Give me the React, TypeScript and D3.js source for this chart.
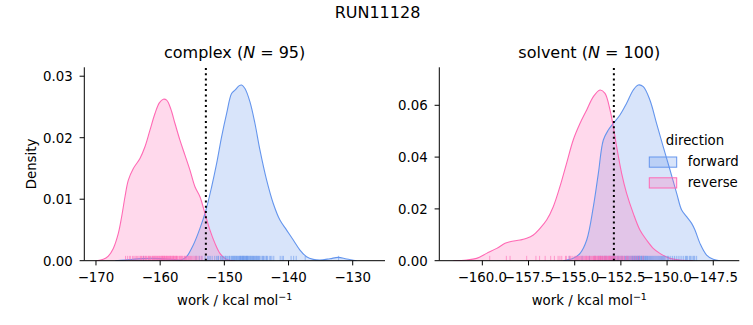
import React from "react";
import * as d3 from "d3";

// ---------- data ----------
const suptitle = "RUN11128";
const directions = ["forward", "reverse"];
const colors: Record<string, string> = { forward: "#6495ED", reverse: "#FF69B4" };

// KDE curves: [work, density]
const complexForwardKde: [number, number][] = [
  [-167.0, 0], [-165.5, 0.0001], [-163.5, 0.0003], [-161.5, 0.0004], [-159.5, 0.0003],
  [-157.8, 0.0002], [-156.9, 0.0001], [-156.4, 0.00027], [-155.88, 0.00065], [-154.84, 0.00255],
  [-153.8, 0.00525], [-152.87, 0.00823], [-151.98, 0.01202], [-151.2, 0.01581], [-150.43, 0.02014],
  [-149.65, 0.02393], [-148.87, 0.02718], [-148.35, 0.02772], [-147.73, 0.02843], [-147.3, 0.02857],
  [-146.79, 0.028], [-146.01, 0.02583], [-145.23, 0.02231], [-144.45, 0.01798], [-143.41, 0.0131],
  [-142.38, 0.00931], [-141.34, 0.00661], [-140.3, 0.00498], [-139.26, 0.00336], [-138.22, 0.00173],
  [-137.19, 0.00065], [-136.15, 0.00022], [-135.11, 0.00011], [-133.55, 0.00032], [-132.25, 0.00054],
  [-130.95, 0.00027], [-129.4, 0],
];
const complexReverseKde: [number, number][] = [
  [-169.9, 0], [-168.86, 0.00022], [-168.08, 0.00076], [-167.3, 0.002], [-166.52, 0.00444],
  [-166.0, 0.00715], [-165.48, 0.0104], [-164.96, 0.0131], [-164.18, 0.015], [-163.15, 0.01662],
  [-162.37, 0.01852], [-161.59, 0.02123], [-160.81, 0.02393], [-160.13, 0.02567], [-159.51, 0.02626],
  [-158.99, 0.0261], [-158.37, 0.02475], [-157.69, 0.02231], [-156.92, 0.0196], [-156.14, 0.01717],
  [-155.36, 0.01473], [-154.58, 0.01202], [-153.8, 0.0104], [-153.02, 0.00769], [-152.24, 0.00498],
  [-151.46, 0.00282], [-150.69, 0.00119], [-149.91, 0.00038], [-149.13, 0.00005], [-148.3, 0],
];
const solventForwardKde: [number, number][] = [
  [-155.62, 0], [-155.08, 0.0009], [-154.71, 0.00283], [-154.35, 0.00798], [-153.99, 0.02086],
  [-153.72, 0.03373], [-153.45, 0.04661], [-153.18, 0.05047], [-152.91, 0.05305], [-152.55, 0.05626],
  [-152.19, 0.06077], [-151.83, 0.06592], [-151.56, 0.06785], [-151.29, 0.06721], [-150.93, 0.06206],
  [-150.57, 0.05305], [-150.21, 0.04403], [-149.84, 0.03502], [-149.48, 0.02601], [-149.21, 0.01957],
  [-148.94, 0.017], [-148.67, 0.01442], [-148.49, 0.01185], [-148.22, 0.00669], [-147.86, 0.00219],
  [-147.5, 0.00052], [-147.14, 0],
];
const solventReverseKde: [number, number][] = [
  [-161.57, 0], [-160.85, 0.00026], [-160.31, 0.0009], [-159.77, 0.00283], [-159.22, 0.00476],
  [-158.77, 0.00669], [-158.5, 0.00734], [-157.96, 0.00798], [-157.6, 0.00863], [-157.24, 0.00991],
  [-156.88, 0.01249], [-156.52, 0.01571], [-156.16, 0.02086], [-155.8, 0.02858], [-155.44, 0.03759],
  [-155.08, 0.04661], [-154.71, 0.05305], [-154.35, 0.0582], [-153.99, 0.06335], [-153.63, 0.06592],
  [-153.36, 0.06463], [-153.09, 0.0582], [-152.91, 0.05176], [-152.73, 0.04403], [-152.46, 0.03373],
  [-152.19, 0.02601], [-151.83, 0.01828], [-151.47, 0.01185], [-151.11, 0.00798], [-150.75, 0.00476],
  [-150.39, 0.00283], [-149.84, 0.0009], [-149.12, 0.00013], [-148.6, 0],
];

// rug samples (work values)
const complexForwardRug = [
  -162.6, -154.4, -153.9, -153.5, -153.0, -152.6, -152.4, -152.2, -151.9, -151.5, -151.2, -151.0,
  -150.9, -150.6, -150.4, -150.3, -150.1, -149.9, -149.8, -149.7, -149.5, -149.3, -149.2, -149.1,
  -148.9, -148.8, -148.7, -148.6, -148.5, -148.4, -148.3, -148.2, -148.1, -148.0, -147.9, -147.8,
  -147.65, -147.6, -147.5, -147.45, -147.4, -147.3, -147.2, -147.15, -147.1, -147.0, -146.95, -146.9,
  -146.8, -146.7, -146.6, -146.55, -146.5, -146.4, -146.35, -146.3, -146.2, -146.05, -146.0, -145.9,
  -145.8, -145.7, -145.6, -145.5, -145.45, -145.3, -145.2, -145.1, -145.0, -144.9, -144.8, -144.7,
  -144.6, -144.5, -144.3, -144.1, -144.0, -143.9, -143.7, -143.5, -143.4, -143.3, -143.0, -142.8,
  -142.6, -142.3, -141.3, -141.0, -140.8, -139.6, -139.2, -138.8, -137.4, -132.2,
];
const complexReverseRug = [
  -165.4, -165.1, -164.8, -164.6, -164.3, -164.1, -163.9, -163.7, -163.5, -163.3, -163.1, -163.0,
  -162.9, -162.7, -162.6, -162.4, -162.3, -162.2, -162.1, -161.9, -161.8, -161.7, -161.6, -161.5,
  -161.3, -161.2, -161.1, -161.0, -160.9, -160.8, -160.7, -160.6, -160.5, -160.4, -160.3, -160.2,
  -160.1, -160.0, -159.9, -159.8, -159.7, -159.65, -159.6, -159.5, -159.4, -159.35, -159.3, -159.2,
  -159.1, -159.0, -158.95, -158.9, -158.8, -158.7, -158.6, -158.5, -158.45, -158.4, -158.3, -158.2,
  -158.1, -158.0, -157.95, -157.9, -157.8, -157.7, -157.6, -157.5, -157.45, -157.4, -157.3, -157.1,
  -157.0, -156.9, -156.8, -156.7, -156.6, -156.5, -156.3, -156.2, -156.1, -156.0, -155.9, -155.7,
  -155.6, -155.4, -155.3, -155.1, -154.9, -154.7, -154.5, -154.3, -154.1, -153.8, -153.5,
];
const solventForwardRug = [
  -155.3, -154.6, -154.2, -153.9, -153.7, -153.6, -153.5, -153.4, -153.35, -153.3, -153.2, -153.1,
  -153.05, -153.0, -152.95, -152.9, -152.85, -152.8, -152.7, -152.65, -152.6, -152.5, -152.45, -152.4,
  -152.3, -152.25, -152.2, -152.15, -152.1, -152.05, -152.0, -151.95, -151.9, -151.88, -151.85, -151.8,
  -151.78, -151.75, -151.7, -151.68, -151.65, -151.6, -151.58, -151.55, -151.52, -151.5, -151.48, -151.45,
  -151.4, -151.38, -151.35, -151.3, -151.28, -151.25, -151.2, -151.18, -151.15, -151.1, -151.08, -151.05,
  -151.0, -150.95, -150.9, -150.85, -150.8, -150.75, -150.7, -150.65, -150.6, -150.55, -150.5, -150.45,
  -150.4, -150.35, -150.3, -150.25, -150.2, -150.15, -150.1, -150.0, -149.95, -149.9, -149.8, -149.7,
  -149.6, -149.5, -149.4, -149.3, -149.2, -149.1, -149.0, -148.95, -148.9, -148.8, -148.75, -148.7,
  -148.6, -148.55, -148.5, -148.4,
];
const solventReverseRug = [
  -159.6, -158.7, -158.5, -157.6, -157.1, -156.9, -156.6, -156.3, -156.1, -155.9, -155.8, -155.7,
  -155.5, -155.45, -155.3, -155.25, -155.2, -155.1, -155.0, -154.95, -154.9, -154.85, -154.8, -154.75,
  -154.7, -154.65, -154.6, -154.55, -154.5, -154.45, -154.4, -154.38, -154.35, -154.3, -154.25, -154.2,
  -154.15, -154.1, -154.05, -154.0, -153.98, -153.95, -153.92, -153.9, -153.88, -153.85, -153.8, -153.78,
  -153.75, -153.7, -153.68, -153.65, -153.62, -153.6, -153.58, -153.55, -153.5, -153.48, -153.45, -153.4,
  -153.38, -153.35, -153.32, -153.3, -153.28, -153.25, -153.2, -153.18, -153.15, -153.12, -153.1, -153.08,
  -153.05, -153.0, -152.98, -152.95, -152.9, -152.88, -152.85, -152.8, -152.75, -152.7, -152.65, -152.6,
  -152.55, -152.5, -152.45, -152.4, -152.35, -152.3, -152.2, -152.15, -152.1, -152.0, -151.9, -151.8,
  -151.7, -151.6, -151.5, -151.3,
];

const complexXTicks = [-170, -160, -150, -140, -130];
const complexYTicks = [0, 0.01, 0.02, 0.03];
const solventXTicks = [-160, -157.5, -155, -152.5, -150, -147.5];
const solventYTicks = [0, 0.02, 0.04, 0.06];
const refLine = [-152.88, -152.88];

// ---------- layout ----------
const W = 753;
const H = 325;
const FONT = "'DejaVu Sans', sans-serif";
const top = 67.3;
const bottom = 260.7;

const panels = [
  {
    name: "complex", n: 95, left: 84.3, right: 385,
    xDomain: [-171.82, -124.97], yDomain: [0, 0.03145],
    xTicks: complexXTicks, yTicks: complexYTicks, xFmt: (v: number) => d3.format(".0f")(v),
    yFmt: (v: number) => d3.format(".2f")(v),
    kde: { forward: complexForwardKde, reverse: complexReverseKde },
    rug: { forward: complexForwardRug, reverse: complexReverseRug },
    ref: refLine[0], ylabel: true, legend: false,
  },
  {
    name: "solvent", n: 100, left: 439.3, right: 739.3,
    xDomain: [-162.33, -146.09], yDomain: [0, 0.07467],
    xTicks: solventXTicks, yTicks: solventYTicks, xFmt: (v: number) => d3.format(".1f")(v),
    yFmt: (v: number) => d3.format(".2f")(v),
    kde: { forward: solventForwardKde, reverse: solventReverseKde },
    rug: { forward: solventForwardRug, reverse: solventReverseRug },
    ref: refLine[1], ylabel: false, legend: true,
  },
];

const minus = (s: string) => s.replace(/-/g, "\u2212");

function Panel({ p }: { p: (typeof panels)[number] }) {
  const x = d3.scaleLinear().domain(p.xDomain).range([p.left, p.right]);
  const y = d3.scaleLinear().domain(p.yDomain).range([bottom, top]);
  const curve = d3.curveCatmullRom.alpha(0.5);
  const area = d3
    .area<[number, number]>()
    .x((d) => x(d[0]))
    .y0(y(0))
    .y1((d) => y(d[1]))
    .curve(curve);
  const line = d3
    .line<[number, number]>()
    .x((d) => x(d[0]))
    .y((d) => y(d[1]))
    .curve(curve);
  const cx = (p.left + p.right) / 2;
  const rugH = (bottom - top) * 0.025;
  return (
    <g>
      <defs>
        <clipPath id={`clip-${p.name}`}>
          <rect x={p.left} y={top} width={p.right - p.left} height={bottom - top} />
        </clipPath>
      </defs>
      <g clipPath={`url(#clip-${p.name})`}>
        {directions.map((dir) => (
          <path key={dir + "a"} d={area((p.kde as any)[dir]) || ""} fill={colors[dir]} fillOpacity={0.25} />
        ))}
        {directions.map((dir) => (
          <path key={dir + "l"} d={line((p.kde as any)[dir]) || ""} fill="none" stroke={colors[dir]} strokeWidth={1.1} />
        ))}
        {directions.map((dir) =>
          ((p.rug as any)[dir] as number[]).map((v, i) => (
            <line key={dir + i} x1={x(v)} x2={x(v)} y1={bottom} y2={bottom - rugH}
              stroke={colors[dir]} strokeOpacity={0.6} strokeWidth={1} />
          ))
        )}
        <line x1={x(p.ref)} x2={x(p.ref)} y1={bottom} y2={top} stroke="#000" strokeWidth={2} strokeDasharray="2,3.3" />
      </g>
      {/* spines */}
      <line x1={p.left} x2={p.left} y1={top} y2={bottom} stroke="#000" strokeWidth={1} />
      <line x1={p.left} x2={p.right} y1={bottom} y2={bottom} stroke="#000" strokeWidth={1} />
      {/* x ticks */}
      {p.xTicks.map((t) => (
        <g key={"x" + t}>
          <line x1={x(t)} x2={x(t)} y1={bottom} y2={bottom + 4.7} stroke="#000" strokeWidth={1} />
          <text x={x(t)} y={282.3} textAnchor="middle" fontSize={13.33} fontFamily={FONT} fill="#000">
            {minus(p.xFmt(t))}
          </text>
        </g>
      ))}
      {/* y ticks */}
      {p.yTicks.map((t) => (
        <g key={"y" + t}>
          <line x1={p.left - 4.7} x2={p.left} y1={y(t)} y2={y(t)} stroke="#000" strokeWidth={1} />
          <text x={p.left - 11.5} y={y(t) + 4.8} textAnchor="end" fontSize={13.33} fontFamily={FONT} fill="#000">
            {p.yFmt(t)}
          </text>
        </g>
      ))}
      {/* title */}
      <text x={cx} y={58.3} textAnchor="middle" fontSize={16} fontFamily={FONT} fill="#000">
        {p.name} (<tspan fontStyle="italic">N</tspan>
        {" = " + p.n + ")"}
      </text>
      {/* x label */}
      <text x={cx} y={305} textAnchor="middle" fontSize={13.33} fontFamily={FONT} fill="#000">
        work / kcal mol
        <tspan dy={-5.5} fontSize={9.5}>{"\u22121"}</tspan>
      </text>
      {p.ylabel && (
        <text transform={`translate(36,${(top + bottom) / 2}) rotate(-90)`} textAnchor="middle"
          fontSize={13.33} fontFamily={FONT} fill="#000">
          Density
        </text>
      )}
      {p.legend && (
        <g fontFamily={FONT} fontSize={13.33}>
          <text x={695} y={145.3} textAnchor="middle" fill="#000">direction</text>
          {directions.map((dir, i) => (
            <g key={dir}>
              <rect x={649.3} y={157 + i * 20.8} width={27.4} height={10.2}
                fill={colors[dir]} fillOpacity={0.25} stroke={colors[dir]} strokeWidth={1} />
              <text x={687.7} y={166.3 + i * 20.8} fill="#000">{dir}</text>
            </g>
          ))}
        </g>
      )}
    </g>
  );
}

export default function App() {
  return (
    <svg width={W} height={H} viewBox={`0 0 ${W} ${H}`}
      style={{ position: "absolute", left: 0, top: 0, background: "#fff" }}>
      <rect width={W} height={H} fill="#fff" />
      <text x={377.5} y={18.3} textAnchor="middle" fontSize={16} fontFamily={FONT} fill="#000">
        {suptitle}
      </text>
      {panels.map((p) => (
        <Panel key={p.name} p={p} />
      ))}
    </svg>
  );
}
